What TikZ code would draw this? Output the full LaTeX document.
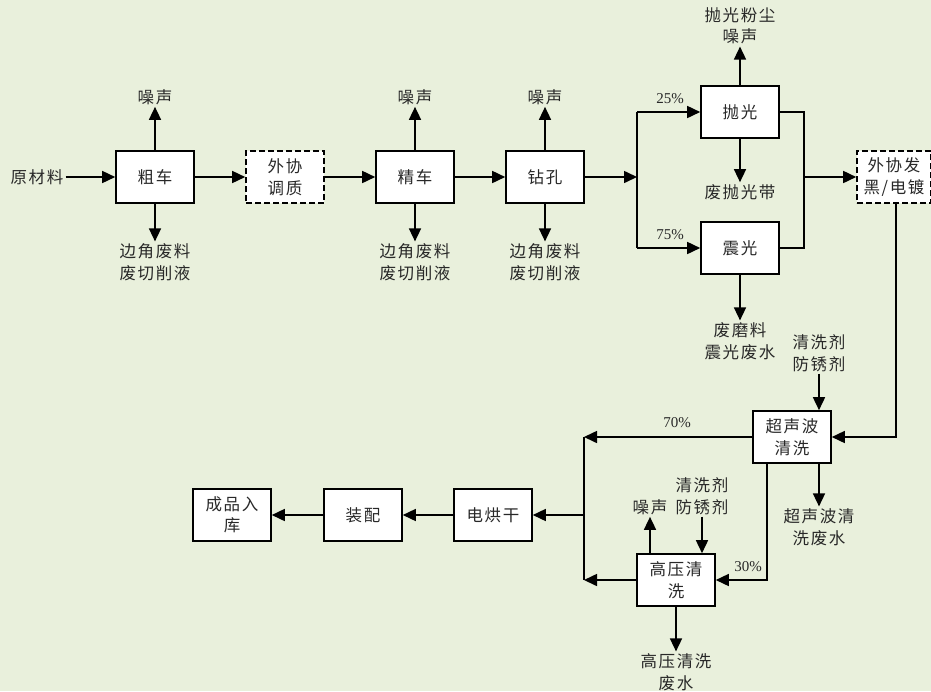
\documentclass[tikz,border=0pt]{standalone}
\usepackage{fontspec}
\setmainfont{Noto Sans CJK SC}[LetterSpace=10]
\newfontfamily\pctfont{Liberation Serif}
\usetikzlibrary{arrows.meta}
\definecolor{bgc}{RGB}{233,240,220}
\definecolor{txt}{RGB}{40,40,40}
\tikzset{
  box/.style={draw, fill=white, line width=1.6pt, minimum width=78pt, minimum height=52pt, inner sep=0pt, align=center, text=txt, font=\fontsize{16.5}{21.5}\selectfont},
  dbox/.style={box, dash pattern=on 6pt off 3pt},
  lbl/.style={align=center, inner sep=2pt, text=txt, font=\fontsize{16.5}{21.5}\selectfont},
  pct/.style={inner sep=0pt, text=txt, font=\pctfont\fontsize{15}{15}\selectfont},
  ln/.style={line width=1.6pt},
  arr/.style={ln, -{Triangle[length=13pt,width=12pt]}}
}
\begin{document}
\begin{tikzpicture}[x=1pt,y=-1pt]
\fill[bgc] (0,0) rectangle (931,691);
\useasboundingbox (0,0) rectangle (931,691);
% main row
\node[lbl] (raw) at (37,177) {原材料};
\node[box] (cc) at (155,177) {粗车};
\node[dbox] (tz) at (285,177) {外协\\调质};
\node[box] (jc) at (415,177) {精车};
\node[box] (zk) at (545,177) {钻孔};
\coordinate (sp) at (637,177);
\node[box] (pg) at (740,112) {抛光};
\node[box] (zg) at (740,248) {震光};
\coordinate (mg) at (804,177);
\node[dbox, minimum width=74pt] (fh) at (894,177) {外协发\\黑/电镀};
% lower part
\node[box] (cs) at (792,437) {超声波\\清洗};
\node[box] (gy) at (676,580) {高压清\\洗};
\node[box] (dh) at (493,515) {电烘干};
\node[box] (zp) at (363,515) {装配};
\node[box] (cp) at (232,515) {成品入\\库};
\coordinate (lx) at (584,437);
\coordinate (lb) at (584,580);
% labels
\node[lbl] (n1) at (155,97) {噪声};
\node[lbl] (n2) at (415,97) {噪声};
\node[lbl] (n3) at (545,97) {噪声};
\node[lbl] (w1) at (155,262) {边角废料\\废切削液};
\node[lbl] (w2) at (415,262) {边角废料\\废切削液};
\node[lbl] (w3) at (545,262) {边角废料\\废切削液};
\node[lbl] (pn) at (740,26) {抛光粉尘\\噪声};
\node[lbl] (pd) at (740,192) {废抛光带};
\node[lbl] (zw) at (740,341) {废磨料\\震光废水};
\node[pct] at (670,99) {25\%};
\node[pct] at (670,235) {75\%};
\node[lbl] (q1) at (819,353) {清洗剂\\防锈剂};
\node[pct] at (677,423) {70\%};
\node[pct] at (748,567) {30\%};
\node[lbl] (n4) at (650,507) {噪声};
\node[lbl] (q2) at (702,496) {清洗剂\\防锈剂};
\node[lbl] (cw) at (819,527) {超声波清\\洗废水};
\node[lbl] (gw) at (676,672) {高压清洗\\废水};
% connectors main row
\draw[arr] (raw.east) -- (cc.west);
\draw[arr] (cc.east) -- (tz.west);
\draw[arr] (tz.east) -- (jc.west);
\draw[arr] (jc.east) -- (zk.west);
\draw[arr] (zk.east) -- (sp);
\draw[ln] (sp |- pg) -- (sp |- zg);
\draw[arr] (sp |- pg) -- (pg.west);
\draw[arr] (sp |- zg) -- (zg.west);
\draw[ln] (pg.east) -- (mg |- pg) -- (mg |- zg) -- (zg.east);
\draw[arr] (mg) -- (fh.west);
\foreach \b/\n in {cc/n1,jc/n2,zk/n3,pg/pn} \draw[arr] (\b.north) -- (\n.south);
\foreach \b/\n in {cc/w1,jc/w2,zk/w3,pg/pd,zg/zw} \draw[arr] (\b.south) -- (\n.north);
% lower connectors
\draw[arr] ([xshift=2pt]fh.south) |- (cs.east);
\draw[arr] (q1.south) -- (q1.south |- cs.north);
\draw[arr] (cs.west) -- (lx);
\draw[ln] (lx) -- (lb);
\draw[arr] (gy.west) -- (lb);
\draw[arr] (lx |- dh) -- (dh.east);
\draw[arr] (dh.west) -- (zp.east);
\draw[arr] (zp.west) -- (cp.east);
\draw[arr] ([xshift=-25pt]cs.south) |- (gy.east);
\draw[arr] (n4.south |- gy.north) -- (n4.south);
\draw[arr] (q2.south) -- (q2.south |- gy.north);
\draw[arr] (cw.north |- cs.south) -- (cw.north);
\draw[arr] (gy.south) -- (gw.north);
\end{tikzpicture}
\end{document}
